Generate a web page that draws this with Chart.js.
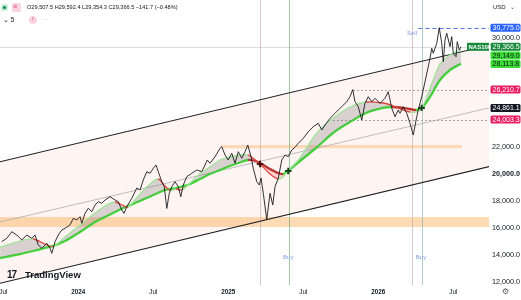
<!DOCTYPE html>
<html lang="en">
<head>
<meta charset="UTF-8">
<script src="https://cdn.jsdelivr.net/npm/chart.js"></script>
<title>NAS100</title>
<style>
  html, body { margin: 0; padding: 0; background: #fff; }
  .wrap { position: relative; width: 521px; height: 300px; overflow: hidden; }
  .txt { position: absolute; font-family: "Liberation Sans", Arial, sans-serif; color: #131722; white-space: nowrap; }
  .ico { position: absolute; border-radius: 2px; }
</style>
</head>
<body>
<div class="wrap">
  <canvas id="chart" width="521" height="300"></canvas>

  <!-- header -->
  <div class="ico" style="left:1px;top:4px;width:7px;height:7px;border-radius:50%;background:#b9ecd3;"></div>
  <div class="ico" style="left:3px;top:6px;width:3px;height:3px;border-radius:50%;background:#0a7a45;"></div>
  <div class="ico" style="left:12px;top:3px;width:9px;height:9px;background:#fbd3de;"></div>
  <div class="txt" style="left:13px;top:3px;font-size:7px;color:#d83a66;">≡</div>
  <div class="txt" style="left:27px;top:4px;font-size:5.6px;">O29,507.5 H29,592.4 L29,354.3 C29,366.5 −141.7 (−0.48%)</div>
  <div class="txt" style="left:3px;top:16px;font-size:6.5px;">⌄ 5</div>
  <div class="ico" style="left:29px;top:16px;width:8px;height:8px;border-radius:50%;background:#fbd3de;"></div>
  <div class="txt" style="left:32px;top:16px;font-size:6px;color:#d83a66;">!</div>
  <div class="txt" style="left:42px;top:16px;font-size:6px;color:#9598a1;">···</div>
  <div class="txt" style="left:493px;top:4px;font-size:6px;">USD</div>
  <div class="txt" style="left:510px;top:3px;font-size:6px;color:#555;">⌄</div>

  <!-- logo -->
  <div class="txt" style="left:7px;top:269px;font-size:10px;font-weight:bold;letter-spacing:-1px;">17</div>
  <div class="txt" style="left:25px;top:269px;font-size:9.5px;font-weight:bold;">TradingView</div>
  <div class="txt" style="left:502px;top:287px;font-size:8px;color:#555;">⚙</div>
</div>
<script>
// x values are months counted from Jan 2024 (0 = Jan 2024)
const xTickVals = [-6, 0, 6, 12, 18, 24, 30];
const xTickText = ['Jul', '2024', 'Jul', '2025', 'Jul', '2026', 'Jul'];
const yTickVals = [12000, 14000, 16000, 18000, 20000, 22000, 30000];

const priceT = [-6.12, -5.72, -5.32, -4.92, -4.52, -4.12, -3.72, -3.46, -3.20, -2.92, -2.52, -2.26, -2.12, -1.86, -1.60, -1.32, -1.06, -0.66, -0.40, -0.12,
  0.14, 0.28, 0.54, 0.80, 1.08, 1.34, 1.60, 1.88, 2.14, 2.54, 2.94, 3.20, 3.48, 3.66, 3.88, 4.28, 4.68, 4.94, 5.20, 5.48,
  5.74, 6.00, 6.22, 6.40, 6.68, 6.88, 7.08, 7.28, 7.48, 7.74, 8.00, 8.20, 8.40, 8.68, 9.08, 9.48, 9.88, 10.14, 10.32, 10.54,
  10.94, 11.34, 11.48, 11.74, 12.00, 12.28, 12.54, 12.80, 13.08, 13.34, 13.56, 13.82, 14.00, 14.28, 14.48, 14.62, 14.80, 15.08, 15.34, 15.56,
  15.74, 16.00, 16.28, 16.54, 16.80, 17.08, 17.34, 17.60, 18.00, 18.40, 18.80, 19.20, 19.48, 19.74, 20.14, 20.54, 20.80, 21.08, 21.48, 21.74,
  21.96, 22.14, 22.40, 22.68, 22.94, 23.20, 23.48, 23.74, 24.14, 24.54, 24.80, 25.08, 25.34, 25.60, 25.74, 26.00, 26.28, 26.54, 26.80, 27.08,
  27.20, 27.48, 27.74, 28.00, 28.14, 28.28, 28.40, 28.68, 28.88, 29.08, 29.20, 29.34, 29.48, 29.74, 29.88, 30.00, 30.22, 30.32, 30.48, 30.62];
const priceV = [15000, 15244, 15731, 15488, 15119, 15488, 15244, 15488, 14750, 14507, 14876, 14507, 14138, 14994, 15488, 15857, 15982, 16225, 16720, 16594,
  16838, 16351, 17088, 17457, 17206, 17700, 17944, 17826, 18069, 18312, 18069, 17944, 17332, 17088, 17575, 18194, 18954, 18807, 19544, 20156,
  20038, 20407, 20650, 20156, 19419, 19050, 17450, 18563, 19050, 19419, 19050, 18312, 19175, 19788, 20038, 20282, 20156, 20650, 21019, 20776,
  21263, 21882, 22000, 21388, 21019, 21513, 20776, 21631, 21145, 21631, 22125, 21263, 20407, 19419, 19175, 19692, 18563, 16624, 18563, 17700,
  19050, 19670, 21019, 21388, 21263, 21757, 21956, 22251, 22620, 23106, 23475, 23726, 23232, 23600, 24095, 24463, 24707, 24950, 25319, 25688,
  26210.7, 25319, 24950, 23969, 25201, 25688, 25319, 25570, 25201, 25570, 26056, 24832, 24213, 24707, 24463, 24950, 24463, 23726, 22863, 24213,
  24707, 25688, 26794, 27900, 28520, 29257, 28888, 29626, 30775, 29626, 28269, 29869, 30363, 29375, 30113, 28888, 28638, 29744, 29132, 29366.5];

const maT = [-6.26, -4.66, -3.62, -2.66, -2.02, -1.06, 0.14, 1.34, 2.14, 2.94, 3.50, 3.98, 4.94, 5.74, 6.38, 6.94, 7.34, 7.82, 8.30, 8.94,
  9.74, 10.54, 11.34, 12.14, 12.94, 13.58, 14.06, 14.54, 15.34, 15.98, 16.38, 16.78, 17.74, 19.02, 20.38, 21.74, 23.02, 24.38, 25.10, 25.74,
  26.54, 27.02, 27.50, 28.14, 28.94, 29.74, 30.62];
const fastMA = [14603, 15045, 15193, 14824, 14640, 15340, 16225, 17110, 17627, 17922, 17700, 17553, 18512, 19249, 19618, 19102, 18770, 18880, 18807, 19323,
  20013, 20503, 21019, 21240, 21388, 21388, 21093, 20724, 19987, 19618, 19765, 20230, 21167, 22937, 24117, 24928, 25297, 25223, 25039, 24780,
  24559, 24559, 24870, 26329, 28099, 28763, 29149];
const slowMA = [13792, 14087, 14308, 14529, 14677, 15045, 15709, 16447, 16815, 17184, 17442, 17627, 17995, 18327, 18585, 18807, 18880, 18954, 19065, 19249,
  19618, 19987, 20282, 20577, 20835, 21019, 20982, 20798, 20355, 20060, 19987, 20208, 20945, 21904, 23010, 23822, 24485, 24854, 24928, 24891,
  24780, 24707, 24854, 25665, 26919, 27657, 28113.8];

// channel and trend lines (two end points each)
const chanT = [-6.264, 32.94];
const chanUpper = [20894, 29500];
const chanLower = [11934, 20547];
const midT = [-6.264, 32.86];
const midV = [16447, 24861.1];

// zones
const zoneLowT = [-6.264, 32.86];
const zoneLowV = [16078, 16816];
const zoneHighT = [11.47, 30.70];
const zoneHighV = [21882, 22125];

// horizontal levels
const levelT = [27.22, 21.98, 20.06];
const levelV = [30775, 26210.7, 24003.3];
const lastPrice = 29366.5;

// signals
const signalT = [14.54, 16.86, 26.67, 27.47];
const crossT = [14.54, 16.80, 27.47];
const crossV = [20724, 20208, 24860];
const noteText = ['Buy', 'Buy', 'Sell'];
const noteT = [16.80, 27.42, 26.70];
const noteV = [13865, 13865, 30385];

// price scale tags
const tagV = [30775.0, 29366.5, 29149.0, 28113.8, 26210.7, 24861.1, 24003.3];
const tagBg = ['#2962ff', '#178a3c', '#3bdc34', '#3bdc34', '#e91e63', '#131722', '#e91e63'];
const tagFg = ['#fff', '#fff', '#131722', '#131722', '#fff', '#fff', '#fff'];

const FONT = '"Liberation Sans", Arial, sans-serif';
const fmt = v => v.toLocaleString('en-US', { minimumFractionDigits: 1, maximumFractionDigits: 1 });
const pts = (t, v) => t.map((x, i) => ({ x: x, y: v[i] }));

const overlay = {
  id: 'overlay',
  beforeDatasetsDraw(chart) {
    const { ctx, chartArea: a, scales: { x, y } } = chart;
    ctx.save();
    ctx.beginPath();
    ctx.rect(a.left, a.top, a.width, a.height);
    ctx.clip();

    // channel fill
    ctx.fillStyle = 'rgba(240,110,90,0.07)';
    ctx.beginPath();
    ctx.moveTo(x.getPixelForValue(chanT[0]), y.getPixelForValue(chanUpper[0]));
    ctx.lineTo(x.getPixelForValue(chanT[1]), y.getPixelForValue(chanUpper[1]));
    ctx.lineTo(x.getPixelForValue(chanT[1]), y.getPixelForValue(chanLower[1]));
    ctx.lineTo(x.getPixelForValue(chanT[0]), y.getPixelForValue(chanLower[0]));
    ctx.closePath();
    ctx.fill();

    // zones
    ctx.fillStyle = 'rgba(255,160,60,0.38)';
    let x0 = x.getPixelForValue(zoneLowT[0]), x1 = x.getPixelForValue(zoneLowT[1]);
    let y0 = y.getPixelForValue(zoneLowV[1]), y1 = y.getPixelForValue(zoneLowV[0]);
    ctx.fillRect(x0, y0, x1 - x0, y1 - y0);
    ctx.fillStyle = 'rgba(255,160,60,0.32)';
    x0 = x.getPixelForValue(zoneHighT[0]); x1 = x.getPixelForValue(zoneHighT[1]);
    y0 = y.getPixelForValue(zoneHighV[1]); y1 = y.getPixelForValue(zoneHighV[0]);
    ctx.fillRect(x0, y0, x1 - x0, y1 - y0);

    // last price line
    ctx.strokeStyle = 'rgba(160,160,160,0.35)';
    ctx.lineWidth = 1;
    let py = Math.round(y.getPixelForValue(lastPrice)) + 0.5;
    ctx.beginPath(); ctx.moveTo(a.left, py); ctx.lineTo(a.right, py); ctx.stroke();

    // signal verticals
    const vcol = ['rgba(205,175,175,0.7)', 'rgba(120,175,120,0.7)', 'rgba(205,175,175,0.7)', 'rgba(150,185,185,0.7)'];
    signalT.forEach((t, i) => {
      const px = Math.round(x.getPixelForValue(t)) + 0.5;
      ctx.strokeStyle = vcol[i];
      ctx.beginPath(); ctx.moveTo(px, a.top); ctx.lineTo(px, a.bottom); ctx.stroke();
    });

    // levels
    levelT.forEach((t, i) => {
      const px = x.getPixelForValue(t);
      const ly = Math.round(y.getPixelForValue(levelV[i])) + 0.5;
      if (i === 0) { ctx.strokeStyle = '#4f77e6'; ctx.setLineDash([4, 3]); }
      else { ctx.strokeStyle = '#a7a3a8'; ctx.setLineDash([2, 2]); }
      ctx.beginPath(); ctx.moveTo(px, ly); ctx.lineTo(a.right, ly); ctx.stroke();
    });
    ctx.setLineDash([]);
    ctx.restore();
  },
  afterDraw(chart) {
    const { ctx, chartArea: a, scales: { x, y } } = chart;
    ctx.save();
    // notes
    ctx.font = '6px ' + FONT;
    ctx.fillStyle = '#7d9be0';
    ctx.textAlign = 'center';
    ctx.textBaseline = 'middle';
    noteText.forEach((s, i) => ctx.fillText(s, x.getPixelForValue(noteT[i]), y.getPixelForValue(noteV[i])));

    // tags on price scale, pushed apart when they overlap
    const h = 8, gap = 8.6;
    let last = -100;
    ctx.textAlign = 'left';
    tagV.forEach((v, i) => {
      let ty = y.getPixelForValue(v);
      if (ty < last + gap) ty = last + gap;
      last = ty;
      ctx.fillStyle = tagBg[i];
      ctx.beginPath();
      ctx.roundRect(a.right + 1.5, ty - h / 2, 30, h, 1.5);
      ctx.fill();
      ctx.fillStyle = tagFg[i];
      ctx.font = '7px ' + FONT;
      ctx.fillText(fmt(v), a.right + 3.5, ty + 0.5);
      if (i === 1) {
        ctx.fillStyle = tagBg[i];
        ctx.fillRect(a.right - 22, ty - h / 2, 22, h);
        ctx.fillStyle = '#fff';
        ctx.font = 'bold 6px ' + FONT;
        ctx.fillText('NAS100', a.right - 20.5, ty + 0.5);
      }
    });
    ctx.restore();
  }
};

const red = '#e0423c', darkRed = '#b7322d';
const data = {
  datasets: [{
    type: 'scatter',
    data: pts(crossT, crossV),
    pointStyle: 'cross',
    pointRadius: 3.2,
    pointBorderWidth: 2,
    pointBorderColor: ['#4a1010', '#15401c', '#15401c']
  }, {
    type: 'line',
    data: pts(priceT, priceV),
    borderColor: '#1b1b1f',
    borderWidth: 0.9,
    pointRadius: 0
  }, {
    type: 'line',
    data: pts(maT, fastMA),
    borderWidth: 1.3,
    pointRadius: 0,
    tension: 0.3,
    fill: { target: 3, above: 'rgba(120,120,120,0.28)', below: 'rgba(229,57,53,0.18)' },
    segment: { borderColor: c => c.p1.parsed.y < c.p0.parsed.y ? red : '#9fe49a' }
  }, {
    type: 'line',
    data: pts(maT, slowMA),
    borderWidth: 2.3,
    pointRadius: 0,
    tension: 0.3,
    segment: { borderColor: c => c.p1.parsed.y < c.p0.parsed.y ? darkRed : '#3fdc37' }
  }, {
    type: 'line',
    data: pts(midT, midV),
    borderColor: '#a3a3a3',
    borderWidth: 0.7,
    pointRadius: 0
  }, {
    type: 'line',
    data: pts(chanT, chanUpper),
    borderColor: '#222',
    borderWidth: 1.1,
    pointRadius: 0
  }, {
    type: 'line',
    data: pts(chanT, chanLower),
    borderColor: '#222',
    borderWidth: 1.1,
    pointRadius: 0
  }]
};

const config = {
  type: 'line',
  data: data,
  options: {
    responsive: false,
    animation: false,
    layout: { padding: 0, autoPadding: false },
    plugins: { legend: { display: false }, tooltip: { enabled: false } },
    scales: {
      x: {
        type: 'linear',
        min: -6.264,
        max: 32.86,
        grid: { display: false, drawTicks: false },
        border: { display: false },
        afterBuildTicks: s => { s.ticks = xTickVals.map(v => ({ value: v })); },
        afterFit: s => { s.height = 15; s.paddingLeft = 0; s.paddingRight = 0; },
        ticks: {
          autoSkip: false,
          maxRotation: 0,
          padding: 3,
          color: '#131722',
          font: c => ({ family: FONT, size: 6.3, weight: (c.tick && c.tick.value % 12 === 0) ? 'bold' : 'normal' }),
          callback: v => xTickText[xTickVals.indexOf(v)]
        }
      },
      y: {
        type: 'linear',
        position: 'right',
        min: 11801,
        max: 32818,
        grid: { display: false, drawTicks: false },
        border: { display: false },
        afterBuildTicks: s => { s.ticks = yTickVals.map(v => ({ value: v })); },
        afterFit: s => { s.width = 32; s.paddingTop = 0; s.paddingBottom = 0; },
        ticks: {
          padding: 3,
          color: '#131722',
          font: c => ({ family: FONT, size: 7.2, weight: (c.tick && c.tick.value === 20000) ? 'bold' : 'normal' }),
          callback: v => fmt(v)
        }
      }
    }
  },
  plugins: [overlay]
};

const myChart = new Chart(document.getElementById('chart'), config);
</script>
</body>
</html>
